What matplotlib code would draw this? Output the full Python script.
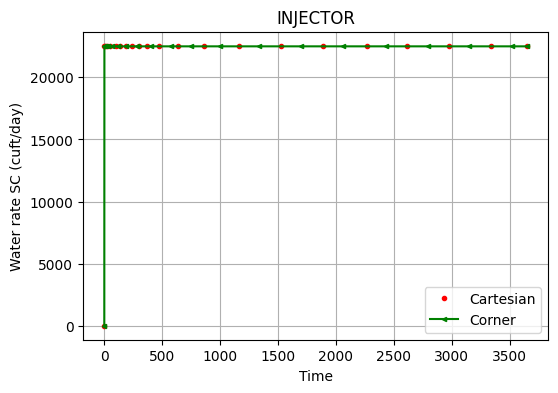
import matplotlib
matplotlib.use("Agg")
import matplotlib.pyplot as plt

# Injector water rate, Cartesian vs corner-point grid
cart_time = [0, 1, 5, 20, 50, 100, 135, 185, 240, 300, 370, 472, 635, 860,
             1160, 1522, 1885, 2265, 2618, 2980, 3342, 3650]
cart_rate = [0, 22500, 22500, 22500, 22550, 22500, 22500, 22500, 22500, 22500,
             22500, 22500, 22500, 22500, 22500, 22500, 22500, 22500, 22500,
             22500, 22500, 22500]

corner_time = [0, 1, 5, 15, 35, 70, 120, 190, 280, 400, 577, 749, 997, 1334,
               1696, 2058, 2429, 2791, 3153, 3523, 3650]
corner_rate = [0] + [22500] * (len(corner_time) - 1)

plt.figure(figsize=(6, 4))
plt.plot(cart_time, cart_rate, "r.", label="Cartesian")
plt.plot(corner_time, corner_rate, "g-<", markersize=3, label="Corner")
plt.xlabel("Time")
plt.ylabel("Water rate SC (cuft/day)")
plt.title("INJECTOR")
plt.legend(loc="lower right")
plt.grid(True)
plt.savefig("out.png", bbox_inches="tight")
